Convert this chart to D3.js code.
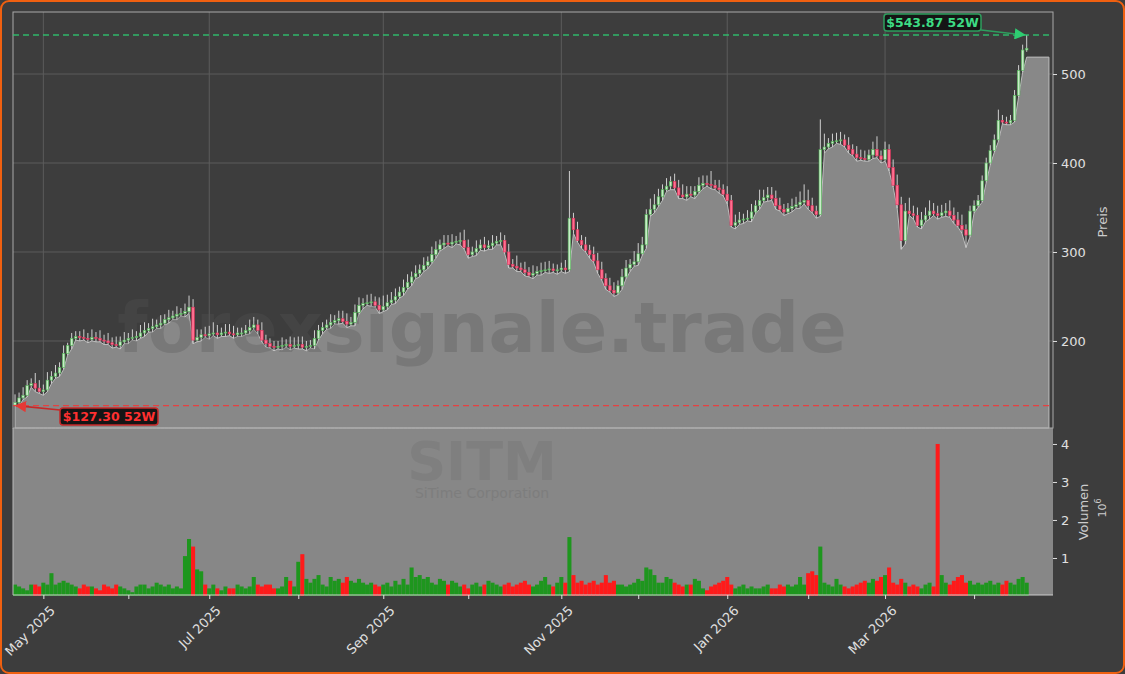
<!DOCTYPE html>
<html><head><meta charset="utf-8">
<script src="https://cdn.jsdelivr.net/npm/d3@7"></script>
<style>body{margin:0;background:#3d3d3d;}svg{display:block;font-family:"DejaVu Sans",sans-serif;}</style>
</head><body><svg id="c" width="1125" height="674"></svg>
<script>
const closes=[131,136,139,150,152,147,143,145,156,160,
164,170,186,195,203,205,204,203,202,204,
203,201,200,198,196,195,199,201,203,204,
205,209,212,214,216,218,220,224,226,228,
230,231,233,238,201,204,207,206,208,209,
207,209,210,208,207,209,209,212,215,218,
212,201,197,194,193,194,195,196,194,195,
196,193,194,195,203,212,215,218,221,223,
225,222,219,221,232,240,242,243,244,240,
235,239,243,246,250,255,260,266,272,276,
280,285,289,297,303,308,310,309,311,312,
313,305,297,300,304,308,305,307,310,312,
313,300,286,284,282,280,277,274,276,278,
279,280,281,279,280,282,280,338,325,313,
308,302,297,290,280,270,262,257,254,262,
272,282,286,289,298,308,342,348,353,362,
370,374,379,372,364,362,365,364,368,375,
377,376,375,372,370,365,358,330,333,336,
337,338,345,352,358,361,364,360,352,348,
345,349,351,353,356,358,352,346,342,415,
418,422,424,425,426,420,415,410,406,405,
404,409,415,408,404,415,395,375,353,313,
346,343,341,330,336,341,346,343,341,344,
346,341,336,330,325,319,346,352,358,380,
400,414,426,448,446,445,448,476,504,527,529];
const firstOpen=128;
const wickUp="3232243232323122232323232323232332323232323333233432333222332322223233332232223233323323323433323323232332333234323232323232423232333222302323233323323324432443232334332333523232332332433333223346432352333232333235232343353333433334334";
const wickDn="1211121212121121212121212121212121212121212121212121212121212121212121212121212121212121212121212121212121212121212121212121212121212121212121212121212121212121212121212121212121212121212121212121212121212121211121212121212121212121212";
const extraHigh={43:4,137:47,199:25,243:6,250:15};
const extraLow={0:2,219:8,235:12};
const volumes=[.3,.25,.2,.15,.3,.3,.25,.35,.3,.6,
.3,.35,.4,.35,.3,.25,.2,.3,.25,.25,
.2,.15,.3,.25,.2,.3,.25,.2,.15,.1,
.25,.3,.3,.2,.25,.35,.3,.25,.3,.2,
.25,.2,1.05,1.5,1.3,.7,.65,.3,.2,.3,
.2,.15,.25,.2,.2,.3,.25,.2,.25,.5,
.3,.25,.3,.3,.2,.2,.25,.5,.4,.25,
.9,1.1,.45,.35,.45,.55,.3,.25,.5,.4,
.45,.35,.5,.4,.35,.45,.35,.3,.35,.3,
.25,.3,.35,.25,.4,.3,.45,.3,.75,.5,
.55,.45,.5,.35,.3,.45,.4,.3,.4,.35,
.25,.3,.2,.3,.35,.25,.3,.4,.35,.3,
.25,.3,.35,.25,.3,.35,.4,.3,.25,.3,
.4,.5,.3,.25,.35,.5,.35,1.55,.55,.35,
.4,.3,.35,.4,.3,.35,.55,.35,.4,.3,
.3,.25,.3,.35,.45,.4,.75,.7,.55,.35,
.35,.5,.45,.35,.3,.25,.3,.3,.45,.4,
.2,.15,.25,.3,.35,.4,.5,.3,.2,.25,
.3,.2,.25,.2,.2,.25,.3,.2,.2,.3,
.25,.3,.25,.3,.5,.3,.6,.65,.55,1.3,
.35,.3,.25,.45,.3,.25,.2,.25,.3,.35,
.4,.35,.45,.4,.5,.55,.75,.35,.3,.45,
.35,.25,.3,.25,.2,.3,.35,.25,4.0,.55,
.35,.3,.4,.5,.55,.35,.4,.3,.35,.3,
.35,.4,.3,.35,.3,.4,.35,.3,.45,.5,.35];
const priceTicks=[200,300,400,500];
const volTicks=[1,2,3,4];
const monthTickLabels=["May 2025","Jul 2025","Sep 2025","Nov 2025","Jan 2026","Mar 2026"];
const hi52=543.87, lo52=127.30;
const startDate="2025-04-22";
const holidays=["2025-05-26","2025-06-19","2025-07-04","2025-09-01","2025-11-27","2025-12-25","2026-01-01","2026-01-19","2026-02-16","2026-04-03"];

const dates=[];{let d=new Date(startDate+"T12:00:00Z");const fmt=d3.utcFormat("%Y-%m-%d");
 while(dates.length<closes.length){const w=d.getUTCDay();if(w>0&&w<6&&!holidays.includes(fmt(d)))dates.push(new Date(d));d=new Date(d.getTime()+864e5);}}
const data=closes.map((c,i)=>{const o=i?closes[i-1]:firstOpen;
 const h=Math.max(o,c)+3*(+wickUp[i]||2)+(extraHigh[i]||0);
 const l=Math.min(o,c)-2*(+wickDn[i]||1)-(extraLow[i]||0);
 return {i,d:dates[i],o,c,h,l,v:volumes[i]};});
data[data.length-1].h=hi52; data[0].l=lo52;

const svg=d3.select("#c");
const L=13,R=1053,PT=12,PB=428,VB=595;
svg.append("rect").attr("x",1).attr("y",1).attr("width",1123).attr("height",672).attr("rx",8).attr("fill","#3d3d3d").attr("stroke","#f06010").attr("stroke-width",2);
const x=d3.scaleLinear().domain([-0.5,256.5]).range([L,R]);
const y=d3.scaleLinear().domain([102.2,569.7]).range([PB,PT]);
const yv=d3.scaleLinear().domain([0,4.42]).range([VB+1,PB]);
svg.append("rect").attr("x",L).attr("y",PB).attr("width",R-L).attr("height",VB-PB).attr("fill","#878787");
const g=svg.append("g");
const mStarts=data.filter((d,i)=>i>0&&d.d.getUTCMonth()!==data[i-1].d.getUTCMonth());
g.selectAll(".vg").data(mStarts.filter(d=>d.d.getUTCMonth()%2===0)).join("line").attr("x1",d=>x(d.i)).attr("x2",d=>x(d.i)).attr("y1",PT).attr("y2",PB).attr("stroke","#5c5c5c");
g.selectAll(".hg").data(priceTicks).join("line").attr("x1",L).attr("x2",R).attr("y1",d=>y(d)).attr("y2",d=>y(d)).attr("stroke","#5c5c5c");
const last=data[data.length-1];
const areaData=data.slice();
areaData[areaData.length-1]={...last,l:519};
areaData.push({i:255.5,l:519});
svg.append("path").datum(areaData).attr("d",d3.area().x(d=>x(d.i)).y0(PB).y1(d=>y(d.l))).attr("fill","#888").attr("stroke","#bdbdbd").attr("stroke-width",1);
svg.append("text").attr("x",482).attr("y",352).attr("text-anchor","middle").attr("font-size",70).attr("font-weight","bold").attr("fill","#555").attr("opacity",0.3).text("forexsignale.trade");
svg.append("text").attr("x",482).attr("y",480).attr("text-anchor","middle").attr("font-size",54).attr("font-weight","bold").attr("fill","#7a7a7a").attr("opacity",0.6).text("SITM");
svg.append("text").attr("x",482).attr("y",498).attr("text-anchor","middle").attr("font-size",14).attr("fill","#7a7a7a").attr("opacity",0.7).text("SiTime Corporation");
const cw=2.6;
const cg=svg.append("g");
cg.selectAll("line").data(data).join("line").attr("x1",d=>x(d.i)).attr("x2",d=>x(d.i)).attr("y1",d=>y(d.h)).attr("y2",d=>y(d.l)).attr("stroke","#d0d0d0").attr("stroke-width",1);
cg.selectAll("rect").data(data).join("rect").attr("x",d=>x(d.i)-cw/2).attr("width",cw)
 .attr("y",d=>y(Math.max(d.o,d.c))).attr("height",d=>Math.max(1,Math.abs(y(d.o)-y(d.c))))
 .attr("fill",d=>d.c>=d.o?"#c8ecc8":"#ff7090").attr("stroke",d=>d.c>=d.o?"#4caf50":"#e0305a").attr("stroke-width",0.6);
const bw=x(1)-x(0);
svg.append("g").selectAll("rect").data(data).join("rect").attr("x",d=>x(d.i)-bw/2).attr("width",bw).attr("y",d=>yv(d.v)).attr("height",d=>yv(0)-yv(d.v)).attr("fill",d=>d.c>=d.o?"#1e961e":"#ff1a1a");
svg.append("rect").attr("x",L).attr("y",PT).attr("width",R-L).attr("height",PB-PT).attr("fill","none").attr("stroke","#aaa");
svg.append("line").attr("x1",L).attr("x2",R).attr("y1",VB).attr("y2",VB).attr("stroke","#ccc");
svg.append("line").attr("x1",L).attr("x2",L).attr("y1",PB).attr("y2",VB).attr("stroke","#bbb");
const tc="#e0e0e0";
const ap=svg.append("g").attr("transform",`translate(${R},0)`).call(d3.axisRight(y).tickValues(priceTicks).tickSize(4).tickPadding(4));
const av=svg.append("g").attr("transform",`translate(${R},0)`).call(d3.axisRight(yv).tickValues(volTicks).tickFormat(d3.format("d")).tickSize(4).tickPadding(4));
const ax=svg.append("g").attr("transform",`translate(0,${VB})`).call(d3.axisBottom(x).tickValues(mStarts.map(d=>d.i)).tickSize(4).tickFormat(()=>""));
[ap,av,ax].forEach(a=>{a.select(".domain").remove();a.selectAll("line").attr("stroke",tc);a.selectAll("text").attr("fill",tc).attr("font-size",13).attr("font-family","DejaVu Sans");});
const labeled=mStarts.filter(d=>d.d.getUTCMonth()%2===0);
svg.selectAll(".xl").data(labeled).join("text").attr("transform",d=>`translate(${x(d.i)+6},${VB+10}) rotate(-45)`).attr("text-anchor","end").attr("dy","0.7em").attr("font-size",13).attr("fill",tc).text((d,k)=>monthTickLabels[k]);
svg.append("text").attr("transform","translate(1107,222) rotate(-90)").attr("text-anchor","middle").attr("font-size",13).attr("fill","#ccc").text("Preis");
svg.append("text").attr("transform","translate(1088,512) rotate(-90)").attr("text-anchor","middle").attr("font-size",13).attr("fill","#ccc").text("Volumen");
svg.append("text").attr("transform","translate(1106,508) rotate(-90)").attr("text-anchor","middle").attr("font-size",11).attr("fill","#ccc").html("10<tspan dy='-5' font-size='8'>6</tspan>");
svg.append("line").attr("x1",L).attr("x2",R).attr("y1",y(hi52)).attr("y2",y(hi52)).attr("stroke","#2ecc71").attr("stroke-width",1.3).attr("stroke-dasharray","6,4").attr("opacity",0.85);
svg.append("line").attr("x1",L).attr("x2",R).attr("y1",y(lo52)).attr("y2",y(lo52)).attr("stroke","#f03a3a").attr("stroke-width",1.3).attr("stroke-dasharray","6,4").attr("opacity",0.9);
const defs=svg.append("defs");
[["ag","#2ecc71"],["ar","#e53935"]].forEach(([id,c])=>defs.append("marker").attr("id",id).attr("viewBox","0 0 10 10").attr("refX",9).attr("refY",5).attr("markerWidth",7).attr("markerHeight",7).attr("orient","auto").append("path").attr("d","M0,0L10,5L0,10z").attr("fill",c));
function label(bx,by,w,txt,col,bord,ax1,ay1,tx,ty,m){
 svg.append("line").attr("x1",ax1).attr("y1",ay1).attr("x2",tx).attr("y2",ty).attr("stroke",bord).attr("stroke-width",1.6).attr("marker-end",`url(#${m})`);
 svg.append("rect").attr("x",bx).attr("y",by).attr("width",w).attr("height",17).attr("rx",3).attr("fill","#151515").attr("stroke",bord).attr("stroke-width",1.5);
 svg.append("text").attr("x",bx+w/2).attr("y",by+13).attr("text-anchor","middle").attr("font-size",12.5).attr("font-weight","bold").attr("fill",col).text(txt);}
label(884,14,97,`$${hi52.toFixed(2)} 52W`,"#3ddc84","#2e9e5e",981,30,x(last.i)-2,y(hi52),"ag");
label(60,408,98,`$${lo52.toFixed(2)} 52W`,"#ff3030","#c62828",60,410,16,y(lo52),"ar");
</script></body></html>
